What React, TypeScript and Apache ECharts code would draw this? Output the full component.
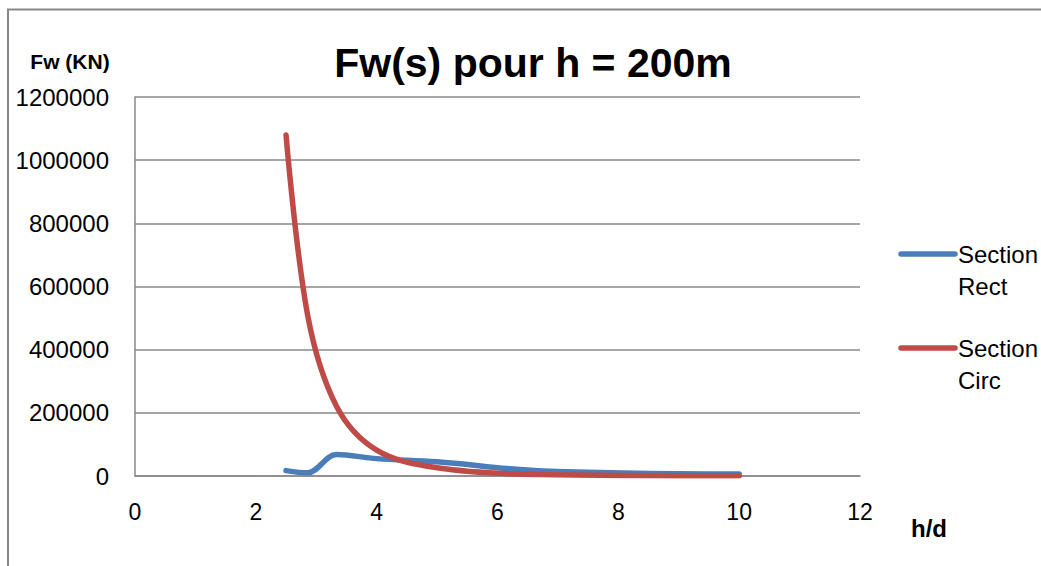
import React, { useEffect, useRef } from "react";
import * as echarts from "echarts";

// h/d values (h = 200 m, d = 80, 70, 60, 50, 40, 30, 20 m)
const hdValues = [2.5, 2.857, 3.333, 4, 5, 6.667, 10];
const rectValues = [17000, 10000, 68000, 55000, 45000, 17000, 6000];
const circValues = [1080000, 510000, 222000, 82000, 26000, 4500, 500];

const seriesNames = ["Section Rect", "Section Circ"];
const seriesColors = ["#4A7EBB", "#BE4B48"];
const legendLines = [["Section", "Rect"], ["Section", "Circ"]];

const titleText = "Fw(s) pour h = 200m";
const yAxisTitle = "Fw (KN)";
const xAxisTitle = "h/d";

const FONT = "'Liberation Sans', Arial, sans-serif";

export default function App() {
  const ref = useRef<HTMLDivElement>(null);

  useEffect(() => {
    if (!ref.current) return;
    const chart = echarts.init(ref.current, null, { renderer: "svg" });

    const rectData = hdValues.map((x, i) => [x, rectValues[i]]);
    const circData = hdValues.map((x, i) => [x, circValues[i]]);

    const legendGraphics: any[] = [];
    const legendY = [254, 348];
    legendLines.forEach((lines, i) => {
      legendGraphics.push({
        type: "line",
        shape: { x1: 901, y1: legendY[i], x2: 955, y2: legendY[i] },
        style: { stroke: seriesColors[i], lineWidth: 5.5, lineCap: "round" },
      });
      lines.forEach((t, j) => {
        legendGraphics.push({
          type: "text",
          x: 958,
          y: legendY[i] + j * 32,
          style: {
            text: t,
            font: `24px ${FONT}`,
            fill: "#000",
            textAlign: "left",
            textVerticalAlign: "middle",
          },
        });
      });
    });

    chart.setOption({
      animation: false,
      backgroundColor: "#fff",
      title: {
        text: titleText,
        left: 528,
        top: 37,
        textAlign: "center",
        textStyle: { fontFamily: FONT, fontSize: 41, fontWeight: "bold", color: "#000" },
      },
      grid: { left: 135, right: 181, top: 97, bottom: 90, containLabel: false },
      xAxis: {
        type: "value",
        min: 0,
        max: 12,
        interval: 2,
        axisLine: { show: true, lineStyle: { color: "#888", width: 1.5 } },
        axisTick: { show: false },
        splitLine: { show: false },
        axisLabel: { margin: 24, fontSize: 23, fontFamily: FONT, color: "#000" },
      },
      yAxis: {
        type: "value",
        min: 0,
        max: 1200000,
        interval: 200000,
        axisLine: { show: true, lineStyle: { color: "#888", width: 1.5 } },
        axisTick: { show: false },
        splitLine: { show: true, lineStyle: { color: "#888", width: 1.5 } },
        axisLabel: {
          margin: 26,
          fontSize: 24,
          fontFamily: FONT,
          color: "#000",
          formatter: (v: number) => String(v),
        },
      },
      series: [
        {
          name: seriesNames[0],
          type: "line",
          data: rectData,
          smooth: 0.35,
          showSymbol: false,
          lineStyle: { color: seriesColors[0], width: 5.5, cap: "round", join: "round" },
          itemStyle: { color: seriesColors[0] },
          z: 2,
        },
        {
          name: seriesNames[1],
          type: "line",
          data: circData,
          smooth: 0.35,
          showSymbol: false,
          lineStyle: { color: seriesColors[1], width: 5.5, cap: "round", join: "round" },
          itemStyle: { color: seriesColors[1] },
          z: 3,
        },
      ],
      graphic: [
        {
          type: "polyline",
          shape: { points: [[8, 566], [8, 9.5], [1041, 9.5]] },
          style: { stroke: "#878787", lineWidth: 2, fill: "none" },
        },
        {
          type: "text",
          x: 70,
          y: 61,
          style: {
            text: yAxisTitle,
            font: `bold 21px ${FONT}`,
            fill: "#000",
            textAlign: "center",
            textVerticalAlign: "middle",
          },
        },
        {
          type: "text",
          x: 929,
          y: 528,
          style: {
            text: xAxisTitle,
            font: `bold 24px ${FONT}`,
            fill: "#000",
            textAlign: "center",
            textVerticalAlign: "middle",
          },
        },
        ...legendGraphics,
      ],
    });

    return () => chart.dispose();
  }, []);

  return (
    <div
      ref={ref}
      style={{ position: "fixed", left: 0, top: 0, width: 1041, height: 566 }}
    />
  );
}
